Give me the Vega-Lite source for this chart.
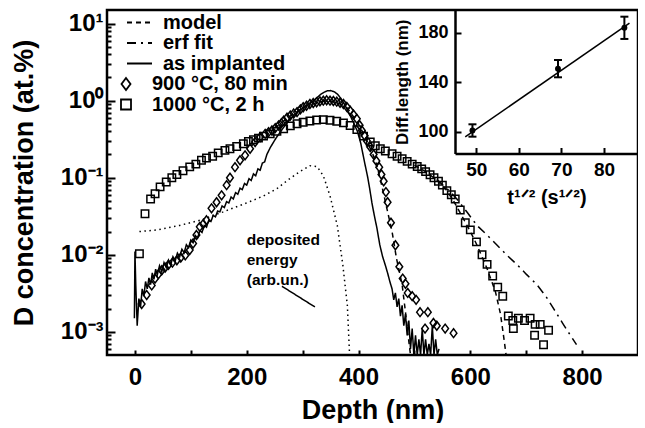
{
  "$schema": "https://vega.github.io/schema/vega-lite/v6.json",
  "background": "white",
  "padding": {"left": 10, "top": 10, "right": 0, "bottom": 0},
  "config": {
    "font": "Liberation Sans",
    "view": {"stroke": "black", "strokeWidth": 2.5},
    "axis": {"domain": false, "grid": false, "tickColor": "black", "tickWidth": 2, "labelColor": "black", "titleColor": "black", "labelFontWeight": "bold", "titleFontWeight": "bold", "labelOverlap": false, "labelFlush": false},
    "legend": {"labelColor": "black", "labelFontWeight": "bold", "labelFontSize": 20, "padding": 0}
  },
  "datasets": {
    "lines": [
      {"series": "as implanted", "curve": "impl", "depth": -1, "conc": 0.0015},
      {"series": "as implanted", "curve": "impl", "depth": 0, "conc": 0.011},
      {"series": "as implanted", "curve": "impl", "depth": 1.5, "conc": 0.004},
      {"series": "as implanted", "curve": "impl", "depth": 4, "conc": 0.0012},
      {"series": "as implanted", "curve": "impl", "depth": 7, "conc": 0.0027},
      {"series": "as implanted", "curve": "impl", "depth": 10, "conc": 0.0021},
      {"series": "as implanted", "curve": "impl", "depth": 13, "conc": 0.0036},
      {"series": "as implanted", "curve": "impl", "depth": 16, "conc": 0.0029},
      {"series": "as implanted", "curve": "impl", "depth": 19, "conc": 0.0045},
      {"series": "as implanted", "curve": "impl", "depth": 22, "conc": 0.0036},
      {"series": "as implanted", "curve": "impl", "depth": 25, "conc": 0.005},
      {"series": "as implanted", "curve": "impl", "depth": 28, "conc": 0.0041},
      {"series": "as implanted", "curve": "impl", "depth": 31, "conc": 0.0058},
      {"series": "as implanted", "curve": "impl", "depth": 34, "conc": 0.0048},
      {"series": "as implanted", "curve": "impl", "depth": 37, "conc": 0.0065},
      {"series": "as implanted", "curve": "impl", "depth": 40, "conc": 0.0055},
      {"series": "as implanted", "curve": "impl", "depth": 44, "conc": 0.0072},
      {"series": "as implanted", "curve": "impl", "depth": 48, "conc": 0.006},
      {"series": "as implanted", "curve": "impl", "depth": 52, "conc": 0.0079},
      {"series": "as implanted", "curve": "impl", "depth": 56, "conc": 0.0068},
      {"series": "as implanted", "curve": "impl", "depth": 60, "conc": 0.0085},
      {"series": "as implanted", "curve": "impl", "depth": 64, "conc": 0.0074},
      {"series": "as implanted", "curve": "impl", "depth": 68, "conc": 0.0094},
      {"series": "as implanted", "curve": "impl", "depth": 72, "conc": 0.0083},
      {"series": "as implanted", "curve": "impl", "depth": 76, "conc": 0.0105},
      {"series": "as implanted", "curve": "impl", "depth": 80, "conc": 0.0094},
      {"series": "as implanted", "curve": "impl", "depth": 84, "conc": 0.0118},
      {"series": "as implanted", "curve": "impl", "depth": 88, "conc": 0.0106},
      {"series": "as implanted", "curve": "impl", "depth": 92, "conc": 0.0135},
      {"series": "as implanted", "curve": "impl", "depth": 96, "conc": 0.0124},
      {"series": "as implanted", "curve": "impl", "depth": 100, "conc": 0.0155},
      {"series": "as implanted", "curve": "impl", "depth": 104, "conc": 0.0143},
      {"series": "as implanted", "curve": "impl", "depth": 108, "conc": 0.0178},
      {"series": "as implanted", "curve": "impl", "depth": 112, "conc": 0.0165},
      {"series": "as implanted", "curve": "impl", "depth": 116, "conc": 0.0205},
      {"series": "as implanted", "curve": "impl", "depth": 120, "conc": 0.0195},
      {"series": "as implanted", "curve": "impl", "depth": 124, "conc": 0.024},
      {"series": "as implanted", "curve": "impl", "depth": 128, "conc": 0.0228},
      {"series": "as implanted", "curve": "impl", "depth": 132, "conc": 0.028},
      {"series": "as implanted", "curve": "impl", "depth": 136, "conc": 0.027},
      {"series": "as implanted", "curve": "impl", "depth": 140, "conc": 0.0325},
      {"series": "as implanted", "curve": "impl", "depth": 144, "conc": 0.031},
      {"series": "as implanted", "curve": "impl", "depth": 148, "conc": 0.037},
      {"series": "as implanted", "curve": "impl", "depth": 152, "conc": 0.036},
      {"series": "as implanted", "curve": "impl", "depth": 156, "conc": 0.043},
      {"series": "as implanted", "curve": "impl", "depth": 160, "conc": 0.041},
      {"series": "as implanted", "curve": "impl", "depth": 164, "conc": 0.049},
      {"series": "as implanted", "curve": "impl", "depth": 168, "conc": 0.047},
      {"series": "as implanted", "curve": "impl", "depth": 172, "conc": 0.056},
      {"series": "as implanted", "curve": "impl", "depth": 176, "conc": 0.053},
      {"series": "as implanted", "curve": "impl", "depth": 180, "conc": 0.064},
      {"series": "as implanted", "curve": "impl", "depth": 184, "conc": 0.061},
      {"series": "as implanted", "curve": "impl", "depth": 188, "conc": 0.073},
      {"series": "as implanted", "curve": "impl", "depth": 192, "conc": 0.07},
      {"series": "as implanted", "curve": "impl", "depth": 196, "conc": 0.084},
      {"series": "as implanted", "curve": "impl", "depth": 200, "conc": 0.08},
      {"series": "as implanted", "curve": "impl", "depth": 204, "conc": 0.097},
      {"series": "as implanted", "curve": "impl", "depth": 208, "conc": 0.092},
      {"series": "as implanted", "curve": "impl", "depth": 212, "conc": 0.112},
      {"series": "as implanted", "curve": "impl", "depth": 216, "conc": 0.106},
      {"series": "as implanted", "curve": "impl", "depth": 220, "conc": 0.13},
      {"series": "as implanted", "curve": "impl", "depth": 224, "conc": 0.125},
      {"series": "as implanted", "curve": "impl", "depth": 228, "conc": 0.155},
      {"series": "as implanted", "curve": "impl", "depth": 232, "conc": 0.16},
      {"series": "as implanted", "curve": "impl", "depth": 236, "conc": 0.2},
      {"series": "as implanted", "curve": "impl", "depth": 242, "conc": 0.245},
      {"series": "as implanted", "curve": "impl", "depth": 248, "conc": 0.29},
      {"series": "as implanted", "curve": "impl", "depth": 254, "conc": 0.34},
      {"series": "as implanted", "curve": "impl", "depth": 260, "conc": 0.39},
      {"series": "as implanted", "curve": "impl", "depth": 266, "conc": 0.45},
      {"series": "as implanted", "curve": "impl", "depth": 272, "conc": 0.51},
      {"series": "as implanted", "curve": "impl", "depth": 278, "conc": 0.58},
      {"series": "as implanted", "curve": "impl", "depth": 284, "conc": 0.64},
      {"series": "as implanted", "curve": "impl", "depth": 290, "conc": 0.7},
      {"series": "as implanted", "curve": "impl", "depth": 296, "conc": 0.76},
      {"series": "as implanted", "curve": "impl", "depth": 302, "conc": 0.81},
      {"series": "as implanted", "curve": "impl", "depth": 308, "conc": 0.86},
      {"series": "as implanted", "curve": "impl", "depth": 314, "conc": 0.93},
      {"series": "as implanted", "curve": "impl", "depth": 320, "conc": 1.01},
      {"series": "as implanted", "curve": "impl", "depth": 326, "conc": 1.1},
      {"series": "as implanted", "curve": "impl", "depth": 332, "conc": 1.2},
      {"series": "as implanted", "curve": "impl", "depth": 338, "conc": 1.28},
      {"series": "as implanted", "curve": "impl", "depth": 344, "conc": 1.34},
      {"series": "as implanted", "curve": "impl", "depth": 350, "conc": 1.35},
      {"series": "as implanted", "curve": "impl", "depth": 356, "conc": 1.31},
      {"series": "as implanted", "curve": "impl", "depth": 362, "conc": 1.22},
      {"series": "as implanted", "curve": "impl", "depth": 368, "conc": 1.08},
      {"series": "as implanted", "curve": "impl", "depth": 374, "conc": 0.92},
      {"series": "as implanted", "curve": "impl", "depth": 380, "conc": 0.76},
      {"series": "as implanted", "curve": "impl", "depth": 386, "conc": 0.62},
      {"series": "as implanted", "curve": "impl", "depth": 392, "conc": 0.5},
      {"series": "as implanted", "curve": "impl", "depth": 398, "conc": 0.4},
      {"series": "as implanted", "curve": "impl", "depth": 404, "conc": 0.28},
      {"series": "as implanted", "curve": "impl", "depth": 408, "conc": 0.2},
      {"series": "as implanted", "curve": "impl", "depth": 412, "conc": 0.144},
      {"series": "as implanted", "curve": "impl", "depth": 416, "conc": 0.105},
      {"series": "as implanted", "curve": "impl", "depth": 420, "conc": 0.072},
      {"series": "as implanted", "curve": "impl", "depth": 424, "conc": 0.047},
      {"series": "as implanted", "curve": "impl", "depth": 428, "conc": 0.033},
      {"series": "as implanted", "curve": "impl", "depth": 433, "conc": 0.022},
      {"series": "as implanted", "curve": "impl", "depth": 438, "conc": 0.0135},
      {"series": "as implanted", "curve": "impl", "depth": 443, "conc": 0.0095},
      {"series": "as implanted", "curve": "impl", "depth": 448, "conc": 0.0073},
      {"series": "as implanted", "curve": "impl", "depth": 452, "conc": 0.0058},
      {"series": "as implanted", "curve": "impl", "depth": 456, "conc": 0.0045},
      {"series": "as implanted", "curve": "impl", "depth": 460, "conc": 0.0036},
      {"series": "as implanted", "curve": "impl", "depth": 463, "conc": 0.0026},
      {"series": "as implanted", "curve": "impl", "depth": 466, "conc": 0.0032},
      {"series": "as implanted", "curve": "impl", "depth": 469, "conc": 0.0021},
      {"series": "as implanted", "curve": "impl", "depth": 472, "conc": 0.0027},
      {"series": "as implanted", "curve": "impl", "depth": 475, "conc": 0.0016},
      {"series": "as implanted", "curve": "impl", "depth": 478, "conc": 0.0022},
      {"series": "as implanted", "curve": "impl", "depth": 481, "conc": 0.0012},
      {"series": "as implanted", "curve": "impl", "depth": 484, "conc": 0.0017},
      {"series": "as implanted", "curve": "impl", "depth": 487, "conc": 0.0009},
      {"series": "as implanted", "curve": "impl", "depth": 490, "conc": 0.0014},
      {"series": "as implanted", "curve": "impl", "depth": 493, "conc": 0.0006},
      {"series": "as implanted", "curve": "impl", "depth": 496, "conc": 0.0011},
      {"series": "as implanted", "curve": "impl", "depth": 499, "conc": 0.0005},
      {"series": "as implanted", "curve": "impl", "depth": 502, "conc": 0.0009},
      {"series": "as implanted", "curve": "impl", "depth": 505, "conc": 0.0005},
      {"series": "as implanted", "curve": "impl", "depth": 508, "conc": 0.0008},
      {"series": "as implanted", "curve": "impl", "depth": 511, "conc": 0.0005},
      {"series": "as implanted", "curve": "impl", "depth": 514, "conc": 0.0011},
      {"series": "as implanted", "curve": "impl", "depth": 517, "conc": 0.0005},
      {"series": "as implanted", "curve": "impl", "depth": 520, "conc": 0.0008},
      {"series": "as implanted", "curve": "impl", "depth": 523, "conc": 0.0005},
      {"series": "as implanted", "curve": "impl", "depth": 526, "conc": 0.0007},
      {"series": "as implanted", "curve": "impl", "depth": 529, "conc": 0.0005},
      {"series": "as implanted", "curve": "impl", "depth": 532, "conc": 0.0012},
      {"series": "as implanted", "curve": "impl", "depth": 535, "conc": 0.0005},
      {"series": "as implanted", "curve": "impl", "depth": 538, "conc": 0.0008},
      {"series": "as implanted", "curve": "impl", "depth": 541, "conc": 0.0005},
      {"series": "as implanted", "curve": "impl", "depth": 544, "conc": 0.0006},

      {"series": "model", "curve": "m900", "depth": 250, "conc": 0.44},
      {"series": "model", "curve": "m900", "depth": 280, "conc": 0.65},
      {"series": "model", "curve": "m900", "depth": 310, "conc": 0.88},
      {"series": "model", "curve": "m900", "depth": 340, "conc": 1.0},
      {"series": "model", "curve": "m900", "depth": 360, "conc": 0.97},
      {"series": "model", "curve": "m900", "depth": 380, "conc": 0.8},
      {"series": "model", "curve": "m900", "depth": 400, "conc": 0.5},
      {"series": "model", "curve": "m900", "depth": 415, "conc": 0.3},
      {"series": "model", "curve": "m900", "depth": 430, "conc": 0.17},
      {"series": "model", "curve": "m900", "depth": 439, "conc": 0.096},
      {"series": "model", "curve": "m900", "depth": 451, "conc": 0.039},
      {"series": "model", "curve": "m900", "depth": 460, "conc": 0.02},
      {"series": "model", "curve": "m900", "depth": 468, "conc": 0.0089},
      {"series": "model", "curve": "m900", "depth": 478, "conc": 0.0041},
      {"series": "model", "curve": "m900", "depth": 484, "conc": 0.0018},
      {"series": "model", "curve": "m900", "depth": 490, "conc": 0.00075},
      {"series": "model", "curve": "m900", "depth": 493, "conc": 0.0005},

      {"series": "model", "curve": "m1000", "depth": 500, "conc": 0.145},
      {"series": "model", "curve": "m1000", "depth": 520, "conc": 0.12},
      {"series": "model", "curve": "m1000", "depth": 540, "conc": 0.093},
      {"series": "model", "curve": "m1000", "depth": 555, "conc": 0.073},
      {"series": "model", "curve": "m1000", "depth": 570, "conc": 0.05},
      {"series": "model", "curve": "m1000", "depth": 588, "conc": 0.029},
      {"series": "model", "curve": "m1000", "depth": 600, "conc": 0.02},
      {"series": "model", "curve": "m1000", "depth": 612, "conc": 0.0133},
      {"series": "model", "curve": "m1000", "depth": 630, "conc": 0.0066},
      {"series": "model", "curve": "m1000", "depth": 645, "conc": 0.0033},
      {"series": "model", "curve": "m1000", "depth": 654, "conc": 0.0017},
      {"series": "model", "curve": "m1000", "depth": 660, "conc": 0.00083},
      {"series": "model", "curve": "m1000", "depth": 664, "conc": 0.0005},

      {"series": "erf fit", "curve": "erf", "depth": 540, "conc": 0.095},
      {"series": "erf fit", "curve": "erf", "depth": 560, "conc": 0.07},
      {"series": "erf fit", "curve": "erf", "depth": 576, "conc": 0.053},
      {"series": "erf fit", "curve": "erf", "depth": 595, "conc": 0.035},
      {"series": "erf fit", "curve": "erf", "depth": 612, "conc": 0.024},
      {"series": "erf fit", "curve": "erf", "depth": 630, "conc": 0.018},
      {"series": "erf fit", "curve": "erf", "depth": 648, "conc": 0.0133},
      {"series": "erf fit", "curve": "erf", "depth": 666, "conc": 0.0098},
      {"series": "erf fit", "curve": "erf", "depth": 684, "conc": 0.0074},
      {"series": "erf fit", "curve": "erf", "depth": 700, "conc": 0.0056},
      {"series": "erf fit", "curve": "erf", "depth": 719, "conc": 0.0041},
      {"series": "erf fit", "curve": "erf", "depth": 735, "conc": 0.0029},
      {"series": "erf fit", "curve": "erf", "depth": 749, "conc": 0.002},
      {"series": "erf fit", "curve": "erf", "depth": 765, "conc": 0.0013},
      {"series": "erf fit", "curve": "erf", "depth": 779, "conc": 0.0009},
      {"series": "erf fit", "curve": "erf", "depth": 790, "conc": 0.00068},

      {"series": "energy", "curve": "energy", "depth": 8, "conc": 0.02},
      {"series": "energy", "curve": "energy", "depth": 40, "conc": 0.021},
      {"series": "energy", "curve": "energy", "depth": 80, "conc": 0.024},
      {"series": "energy", "curve": "energy", "depth": 116, "conc": 0.028},
      {"series": "energy", "curve": "energy", "depth": 158, "conc": 0.036},
      {"series": "energy", "curve": "energy", "depth": 206, "conc": 0.049},
      {"series": "energy", "curve": "energy", "depth": 230, "conc": 0.058},
      {"series": "energy", "curve": "energy", "depth": 254, "conc": 0.072},
      {"series": "energy", "curve": "energy", "depth": 275, "conc": 0.095},
      {"series": "energy", "curve": "energy", "depth": 295, "conc": 0.12},
      {"series": "energy", "curve": "energy", "depth": 313, "conc": 0.143},
      {"series": "energy", "curve": "energy", "depth": 326, "conc": 0.139},
      {"series": "energy", "curve": "energy", "depth": 337, "conc": 0.106},
      {"series": "energy", "curve": "energy", "depth": 349, "conc": 0.058},
      {"series": "energy", "curve": "energy", "depth": 362, "conc": 0.024},
      {"series": "energy", "curve": "energy", "depth": 372, "conc": 0.0073},
      {"series": "energy", "curve": "energy", "depth": 380, "conc": 0.0022},
      {"series": "energy", "curve": "energy", "depth": 384, "conc": 0.0005},

      {"series": "pointer", "curve": "pointer", "depth": 263, "conc": 0.0039},
      {"series": "pointer", "curve": "pointer", "depth": 322, "conc": 0.0021}
    ],
    "points": [
      {"series": "900 °C, 80 min", "depth": 12, "conc": 0.0023},
      {"series": "900 °C, 80 min", "depth": 21, "conc": 0.003},
      {"series": "900 °C, 80 min", "depth": 30, "conc": 0.004},
      {"series": "900 °C, 80 min", "depth": 36, "conc": 0.0049},
      {"series": "900 °C, 80 min", "depth": 42, "conc": 0.0056},
      {"series": "900 °C, 80 min", "depth": 48, "conc": 0.0063},
      {"series": "900 °C, 80 min", "depth": 54, "conc": 0.0068},
      {"series": "900 °C, 80 min", "depth": 60, "conc": 0.0074},
      {"series": "900 °C, 80 min", "depth": 67, "conc": 0.0079},
      {"series": "900 °C, 80 min", "depth": 75, "conc": 0.0085},
      {"series": "900 °C, 80 min", "depth": 82, "conc": 0.0092},
      {"series": "900 °C, 80 min", "depth": 90, "conc": 0.0098},
      {"series": "900 °C, 80 min", "depth": 98, "conc": 0.0115},
      {"series": "900 °C, 80 min", "depth": 104, "conc": 0.014},
      {"series": "900 °C, 80 min", "depth": 110, "conc": 0.018},
      {"series": "900 °C, 80 min", "depth": 116, "conc": 0.023},
      {"series": "900 °C, 80 min", "depth": 122, "conc": 0.025},
      {"series": "900 °C, 80 min", "depth": 128, "conc": 0.028},
      {"series": "900 °C, 80 min", "depth": 137, "conc": 0.04},
      {"series": "900 °C, 80 min", "depth": 146, "conc": 0.048},
      {"series": "900 °C, 80 min", "depth": 155, "conc": 0.059},
      {"series": "900 °C, 80 min", "depth": 164, "conc": 0.08},
      {"series": "900 °C, 80 min", "depth": 170, "conc": 0.1},
      {"series": "900 °C, 80 min", "depth": 179, "conc": 0.137},
      {"series": "900 °C, 80 min", "depth": 188, "conc": 0.168},
      {"series": "900 °C, 80 min", "depth": 197, "conc": 0.195},
      {"series": "900 °C, 80 min", "depth": 206, "conc": 0.237},
      {"series": "900 °C, 80 min", "depth": 215, "conc": 0.29},
      {"series": "900 °C, 80 min", "depth": 224, "conc": 0.336},
      {"series": "900 °C, 80 min", "depth": 233, "conc": 0.37},
      {"series": "900 °C, 80 min", "depth": 239, "conc": 0.39},
      {"series": "900 °C, 80 min", "depth": 245, "conc": 0.41},
      {"series": "900 °C, 80 min", "depth": 251, "conc": 0.44},
      {"series": "900 °C, 80 min", "depth": 257, "conc": 0.475},
      {"series": "900 °C, 80 min", "depth": 262, "conc": 0.51},
      {"series": "900 °C, 80 min", "depth": 266, "conc": 0.55},
      {"series": "900 °C, 80 min", "depth": 272, "conc": 0.6},
      {"series": "900 °C, 80 min", "depth": 278, "conc": 0.64},
      {"series": "900 °C, 80 min", "depth": 284, "conc": 0.68},
      {"series": "900 °C, 80 min", "depth": 290, "conc": 0.71},
      {"series": "900 °C, 80 min", "depth": 296, "conc": 0.77},
      {"series": "900 °C, 80 min", "depth": 301, "conc": 0.82},
      {"series": "900 °C, 80 min", "depth": 307, "conc": 0.86},
      {"series": "900 °C, 80 min", "depth": 313, "conc": 0.906},
      {"series": "900 °C, 80 min", "depth": 319, "conc": 0.93},
      {"series": "900 °C, 80 min", "depth": 325, "conc": 0.95},
      {"series": "900 °C, 80 min", "depth": 331, "conc": 0.98},
      {"series": "900 °C, 80 min", "depth": 337, "conc": 1.0},
      {"series": "900 °C, 80 min", "depth": 343, "conc": 1.01},
      {"series": "900 °C, 80 min", "depth": 349, "conc": 1.0},
      {"series": "900 °C, 80 min", "depth": 355, "conc": 0.99},
      {"series": "900 °C, 80 min", "depth": 361, "conc": 0.97},
      {"series": "900 °C, 80 min", "depth": 367, "conc": 0.94},
      {"series": "900 °C, 80 min", "depth": 373, "conc": 0.906},
      {"series": "900 °C, 80 min", "depth": 379, "conc": 0.83},
      {"series": "900 °C, 80 min", "depth": 385, "conc": 0.74},
      {"series": "900 °C, 80 min", "depth": 391, "conc": 0.66},
      {"series": "900 °C, 80 min", "depth": 397, "conc": 0.58},
      {"series": "900 °C, 80 min", "depth": 402, "conc": 0.48},
      {"series": "900 °C, 80 min", "depth": 406, "conc": 0.41},
      {"series": "900 °C, 80 min", "depth": 411, "conc": 0.35},
      {"series": "900 °C, 80 min", "depth": 415, "conc": 0.3},
      {"series": "900 °C, 80 min", "depth": 421, "conc": 0.25},
      {"series": "900 °C, 80 min", "depth": 427, "conc": 0.2},
      {"series": "900 °C, 80 min", "depth": 432, "conc": 0.165},
      {"series": "900 °C, 80 min", "depth": 437, "conc": 0.137},
      {"series": "900 °C, 80 min", "depth": 441, "conc": 0.11},
      {"series": "900 °C, 80 min", "depth": 445, "conc": 0.09},
      {"series": "900 °C, 80 min", "depth": 449, "conc": 0.065},
      {"series": "900 °C, 80 min", "depth": 452, "conc": 0.048},
      {"series": "900 °C, 80 min", "depth": 458, "conc": 0.026},
      {"series": "900 °C, 80 min", "depth": 466, "conc": 0.0133},
      {"series": "900 °C, 80 min", "depth": 473, "conc": 0.007},
      {"series": "900 °C, 80 min", "depth": 479, "conc": 0.0049},
      {"series": "900 °C, 80 min", "depth": 484, "conc": 0.0042},
      {"series": "900 °C, 80 min", "depth": 488, "conc": 0.0032},
      {"series": "900 °C, 80 min", "depth": 496, "conc": 0.0029},
      {"series": "900 °C, 80 min", "depth": 503, "conc": 0.0026},
      {"series": "900 °C, 80 min", "depth": 510, "conc": 0.0018},
      {"series": "900 °C, 80 min", "depth": 519, "conc": 0.0011},
      {"series": "900 °C, 80 min", "depth": 524, "conc": 0.0018},
      {"series": "900 °C, 80 min", "depth": 534, "conc": 0.0013},
      {"series": "900 °C, 80 min", "depth": 540, "conc": 0.0012},
      {"series": "900 °C, 80 min", "depth": 555, "conc": 0.0011},
      {"series": "900 °C, 80 min", "depth": 570, "conc": 0.00096},

      {"series": "1000 °C, 2 h", "depth": 8, "conc": 0.0103},
      {"series": "1000 °C, 2 h", "depth": 18, "conc": 0.034},
      {"series": "1000 °C, 2 h", "depth": 28, "conc": 0.053},
      {"series": "1000 °C, 2 h", "depth": 36, "conc": 0.062},
      {"series": "1000 °C, 2 h", "depth": 45, "conc": 0.076},
      {"series": "1000 °C, 2 h", "depth": 56, "conc": 0.088},
      {"series": "1000 °C, 2 h", "depth": 66, "conc": 0.1},
      {"series": "1000 °C, 2 h", "depth": 75, "conc": 0.11},
      {"series": "1000 °C, 2 h", "depth": 86, "conc": 0.123},
      {"series": "1000 °C, 2 h", "depth": 98, "conc": 0.138},
      {"series": "1000 °C, 2 h", "depth": 109, "conc": 0.15},
      {"series": "1000 °C, 2 h", "depth": 119, "conc": 0.168},
      {"series": "1000 °C, 2 h", "depth": 128, "conc": 0.18},
      {"series": "1000 °C, 2 h", "depth": 139, "conc": 0.19},
      {"series": "1000 °C, 2 h", "depth": 149, "conc": 0.21},
      {"series": "1000 °C, 2 h", "depth": 161, "conc": 0.226},
      {"series": "1000 °C, 2 h", "depth": 170, "conc": 0.237},
      {"series": "1000 °C, 2 h", "depth": 182, "conc": 0.254},
      {"series": "1000 °C, 2 h", "depth": 194, "conc": 0.275},
      {"series": "1000 °C, 2 h", "depth": 203, "conc": 0.295},
      {"series": "1000 °C, 2 h", "depth": 212, "conc": 0.31},
      {"series": "1000 °C, 2 h", "depth": 221, "conc": 0.326},
      {"series": "1000 °C, 2 h", "depth": 230, "conc": 0.346},
      {"series": "1000 °C, 2 h", "depth": 242, "conc": 0.37},
      {"series": "1000 °C, 2 h", "depth": 254, "conc": 0.4},
      {"series": "1000 °C, 2 h", "depth": 266, "conc": 0.43},
      {"series": "1000 °C, 2 h", "depth": 278, "conc": 0.47},
      {"series": "1000 °C, 2 h", "depth": 290, "conc": 0.5},
      {"series": "1000 °C, 2 h", "depth": 301, "conc": 0.525},
      {"series": "1000 °C, 2 h", "depth": 313, "conc": 0.545},
      {"series": "1000 °C, 2 h", "depth": 325, "conc": 0.56},
      {"series": "1000 °C, 2 h", "depth": 337, "conc": 0.567},
      {"series": "1000 °C, 2 h", "depth": 349, "conc": 0.557},
      {"series": "1000 °C, 2 h", "depth": 361, "conc": 0.54},
      {"series": "1000 °C, 2 h", "depth": 373, "conc": 0.515},
      {"series": "1000 °C, 2 h", "depth": 385, "conc": 0.475},
      {"series": "1000 °C, 2 h", "depth": 397, "conc": 0.42},
      {"series": "1000 °C, 2 h", "depth": 409, "conc": 0.346},
      {"series": "1000 °C, 2 h", "depth": 421, "conc": 0.29},
      {"series": "1000 °C, 2 h", "depth": 430, "conc": 0.26},
      {"series": "1000 °C, 2 h", "depth": 439, "conc": 0.237},
      {"series": "1000 °C, 2 h", "depth": 448, "conc": 0.222},
      {"series": "1000 °C, 2 h", "depth": 460, "conc": 0.204},
      {"series": "1000 °C, 2 h", "depth": 469, "conc": 0.19},
      {"series": "1000 °C, 2 h", "depth": 478, "conc": 0.176},
      {"series": "1000 °C, 2 h", "depth": 487, "conc": 0.163},
      {"series": "1000 °C, 2 h", "depth": 496, "conc": 0.15},
      {"series": "1000 °C, 2 h", "depth": 505, "conc": 0.14},
      {"series": "1000 °C, 2 h", "depth": 513, "conc": 0.13},
      {"series": "1000 °C, 2 h", "depth": 520, "conc": 0.12},
      {"series": "1000 °C, 2 h", "depth": 528, "conc": 0.109},
      {"series": "1000 °C, 2 h", "depth": 535, "conc": 0.1},
      {"series": "1000 °C, 2 h", "depth": 543, "conc": 0.09},
      {"series": "1000 °C, 2 h", "depth": 550, "conc": 0.08},
      {"series": "1000 °C, 2 h", "depth": 558, "conc": 0.068},
      {"series": "1000 °C, 2 h", "depth": 566, "conc": 0.06},
      {"series": "1000 °C, 2 h", "depth": 573, "conc": 0.053},
      {"series": "1000 °C, 2 h", "depth": 582, "conc": 0.038},
      {"series": "1000 °C, 2 h", "depth": 591, "conc": 0.026},
      {"series": "1000 °C, 2 h", "depth": 600, "conc": 0.021},
      {"series": "1000 °C, 2 h", "depth": 611, "conc": 0.0147},
      {"series": "1000 °C, 2 h", "depth": 621, "conc": 0.01},
      {"series": "1000 °C, 2 h", "depth": 630, "conc": 0.0075},
      {"series": "1000 °C, 2 h", "depth": 640, "conc": 0.0053},
      {"series": "1000 °C, 2 h", "depth": 649, "conc": 0.0038},
      {"series": "1000 °C, 2 h", "depth": 658, "conc": 0.0029},
      {"series": "1000 °C, 2 h", "depth": 668, "conc": 0.0016},
      {"series": "1000 °C, 2 h", "depth": 676, "conc": 0.0014},
      {"series": "1000 °C, 2 h", "depth": 677, "conc": 0.0011},
      {"series": "1000 °C, 2 h", "depth": 686, "conc": 0.0015},
      {"series": "1000 °C, 2 h", "depth": 697, "conc": 0.0014},
      {"series": "1000 °C, 2 h", "depth": 707, "conc": 0.0015},
      {"series": "1000 °C, 2 h", "depth": 715, "conc": 0.0009},
      {"series": "1000 °C, 2 h", "depth": 716, "conc": 0.00125},
      {"series": "1000 °C, 2 h", "depth": 725, "conc": 0.00125},
      {"series": "1000 °C, 2 h", "depth": 731, "conc": 0.00068},
      {"series": "1000 °C, 2 h", "depth": 740, "conc": 0.00105}
    ],
    "notes": [
      {"depth": 200, "conc": 0.0189, "text": "deposited\nenergy\n(arb.un.)"}
    ],
    "inset": [
      {"t": 49.1, "L": 101, "lo": 96, "hi": 106},
      {"t": 69.2, "L": 151, "lo": 144, "hi": 158},
      {"t": 84.8, "L": 184, "lo": 175, "hi": 193}
    ],
    "fit": [
      {"t": 47.4, "L": 95.8},
      {"t": 86, "L": 187.8}
    ]
  },
  "width": 531,
  "height": 345,
  "resolve": {"scale": {"x": "independent", "y": "independent"}, "axis": {"x": "independent", "y": "independent"}},
  "layer": [
    {
      "layer": [
        {
          "data": {"name": "lines"},
          "mark": {"type": "line", "clip": true, "color": "black", "strokeWidth": 1.5},
          "encoding": {
            "x": {"field": "depth", "type": "quantitative", "scale": {"domain": [-50, 900], "nice": false, "zero": false},
              "axis": {"title": "Depth (nm)", "orient": "bottom", "values": [0, 100, 200, 300, 400, 500, 600, 700, 800], "labelExpr": "datum.value % 200 === 0 ? datum.label : ''", "tickSize": -5, "labelPadding": 15, "labelFontSize": 24, "titleFontSize": 27, "titlePadding": 8}},
            "y": {"field": "conc", "type": "quantitative", "scale": {"type": "log", "domain": [0.0005, 15], "nice": false},
              "axis": {"title": "D concentration (at.%)", "orient": "left", "values": [0.0006, 0.0007, 0.0008, 0.0009, 0.001, 0.002, 0.003, 0.004, 0.005, 0.006, 0.007, 0.008, 0.009, 0.01, 0.02, 0.03, 0.04, 0.05, 0.06, 0.07, 0.08, 0.09, 0.1, 0.2, 0.3, 0.4, 0.5, 0.6, 0.7, 0.8, 0.9, 1, 2, 3, 4, 5, 6, 7, 8, 9, 10],
                "labelExpr": "datum.value === 10 ? '10¹' : datum.value === 1 ? '10⁰' : datum.value === 0.1 ? '10⁻¹' : datum.value === 0.01 ? '10⁻²' : datum.value === 0.001 ? '10⁻³' : ''",
                "tickSize": {"condition": {"test": "datum.value === 10 || datum.value === 1 || datum.value === 0.1 || datum.value === 0.01 || datum.value === 0.001", "value": -8}, "value": -4},
                "labelPadding": 12, "labelFontSize": 24, "titleFontSize": 27, "titlePadding": 22}},
            "strokeDash": {"field": "series", "type": "nominal",
              "scale": {"domain": ["model", "erf fit", "as implanted", "energy", "pointer"], "range": [[5, 4], [9, 5, 2, 5], [1, 0], [1.5, 3.5], [1, 0]]},
              "legend": {"orient": "none", "legendX": 22.5, "legendY": 2.5, "values": ["model", "erf fit", "as implanted"], "title": null, "symbolType": "M-2.5,0L2.5,0", "symbolSize": 100, "symbolStrokeWidth": 2, "symbolStrokeColor": "black", "symbolFillColor": "transparent", "labelOffset": 13.5, "rowPadding": 0.5}},
            "detail": {"field": "curve", "type": "nominal"}
          }
        },
        {
          "data": {"name": "points"},
          "mark": {"type": "point", "clip": true, "filled": false, "color": "black", "strokeWidth": 1.5, "size": 55, "opacity": 1},
          "encoding": {
            "x": {"field": "depth", "type": "quantitative"},
            "y": {"field": "conc", "type": "quantitative"},
            "shape": {"field": "series", "type": "nominal",
              "scale": {"domain": ["900 °C, 80 min", "1000 °C, 2 h"], "range": ["M0,-1.2L0.9,0L0,1.2L-0.9,0Z", "square"]},
              "legend": {"orient": "none", "legendX": 9, "legendY": 64, "title": null, "symbolSize": 100, "symbolStrokeColor": "black", "symbolFillColor": "white", "symbolStrokeWidth": 1.8, "labelOffset": 16, "rowPadding": 0.5}}
          }
        },
        {
          "data": {"name": "notes"},
          "mark": {"type": "text", "align": "left", "baseline": "top", "fontSize": 15.5, "fontWeight": "bold", "lineHeight": 20, "lineBreak": "\n", "color": "black"},
          "encoding": {
            "x": {"field": "depth", "type": "quantitative"},
            "y": {"field": "conc", "type": "quantitative"},
            "text": {"field": "text"}
          }
        }
      ]
    },
    {
      "layer": [
        {
          "data": {"name": "inset"},
          "mark": {"type": "rule", "color": "black", "strokeWidth": 2},
          "encoding": {
            "x": {"field": "t", "type": "quantitative", "scale": {"domain": [45, 88], "range": [348, 531], "nice": false, "zero": false},
              "axis": {"title": "t¹ᐟ² (s¹ᐟ²)", "orient": "bottom", "offset": -201.5, "domain": true, "domainColor": "black", "domainWidth": 2.5, "values": [50, 60, 70, 80], "tickSize": -6, "labelPadding": 12.5, "labelFontSize": 19, "titleFontSize": 20, "titlePadding": 8}},
            "y": {"field": "lo", "type": "quantitative", "scale": {"domain": [82.4, 198.4], "range": [143.5, 0], "nice": false, "zero": false},
              "axis": {"title": "Diff.length (nm)", "orient": "left", "offset": -348, "domain": true, "domainColor": "black", "domainWidth": 2.5, "values": [100, 140, 180], "tickSize": -6, "labelPadding": 13, "labelFontSize": 18, "titleFontSize": 17, "titlePadding": 6}},
            "y2": {"field": "hi"}
          }
        },
        {
          "data": {"name": "inset"},
          "mark": {"type": "tick", "orient": "horizontal", "size": 8, "thickness": 2, "color": "black", "opacity": 1},
          "encoding": {
            "x": {"field": "t", "type": "quantitative"},
            "y": {"field": "lo", "type": "quantitative"}
          }
        },
        {
          "data": {"name": "inset"},
          "mark": {"type": "tick", "orient": "horizontal", "size": 8, "thickness": 2, "color": "black", "opacity": 1},
          "encoding": {
            "x": {"field": "t", "type": "quantitative"},
            "y": {"field": "hi", "type": "quantitative"}
          }
        },
        {
          "data": {"name": "inset"},
          "mark": {"type": "point", "filled": true, "size": 35, "color": "black", "opacity": 1},
          "encoding": {
            "x": {"field": "t", "type": "quantitative"},
            "y": {"field": "L", "type": "quantitative"}
          }
        },
        {
          "data": {"name": "fit"},
          "mark": {"type": "line", "color": "black", "strokeWidth": 1.5},
          "encoding": {
            "x": {"field": "t", "type": "quantitative"},
            "y": {"field": "L", "type": "quantitative"}
          }
        }
      ]
    }
  ]
}
